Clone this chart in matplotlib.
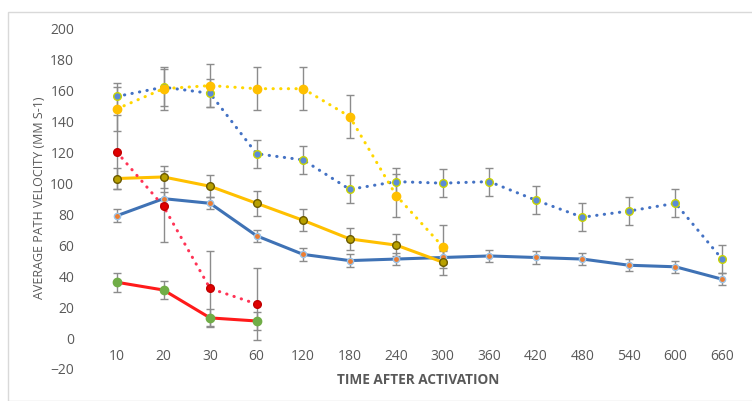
import matplotlib
matplotlib.use("Agg")
import matplotlib.pyplot as plt
from matplotlib.patches import Rectangle

# category axis (minutes after activation)
times = ["10", "20", "30", "60", "120", "180", "240", "300",
         "360", "420", "480", "540", "600", "660"]

# blue solid
blue_solid = [79, 90, 87, 66, 54, 50, 51, 52, 53, 52, 51, 47, 46, 38]
blue_solid_err = [4, 4, 4, 4, 4, 4, 4, 4, 4, 4, 4, 4, 4, 4]
# blue dotted
blue_dot = [156, 162, 158, 119, 115, 96, 101, 100, 101, 89, 78, 82, 87, 51]
blue_dot_err = [9, 12, 9, 9, 9, 9, 9, 9, 9, 9, 9, 9, 9, 9]
# gold solid
gold_solid = [103, 104, 98, 87, 76, 64, 60, 49]
gold_solid_err = [7, 7, 7, 8, 7, 7, 7, 8]
# yellow dotted
yellow_dot = [148, 161, 163, 161, 161, 143, 92, 59]
yellow_dot_err = [14, 14, 14, 14, 14, 14, 14, 14]
# red dotted
red_dot = [120, 85, 32, 22]
red_dot_err = [24, 23, 24, 23]
# red solid, green markers
red_solid = [36, 31, 13, 11]
red_solid_err = [6, 6, 6, 6]

W, H = 752, 401
fig = plt.figure(figsize=(W / 100, H / 100), dpi=100)
fig.patches.append(Rectangle((8 / W, 0), 2, 1 - 12 / H, transform=fig.transFigure,
                             fill=False, edgecolor="#d9d9d9", lw=1))

left, right = 93.7 / W, 745.3 / W
bottom, top = 1 - 369 / H, 1 - 28.3 / H
ax = fig.add_axes([left, bottom, right - left, top - bottom])

xs = list(range(len(times)))
err_kw = dict(ecolor="#8c8c8c", elinewidth=1.0, capsize=3, capthick=1.0)
dots = (0, (0.1, 2.4))

series = [
    (blue_solid, blue_solid_err, "#3f72b5", "-", "#ed7d31", "#9dc3e6", 4.5),
    (blue_dot, blue_dot_err, "#4472c4", dots, "#5b8bd6", "#c9d400", 5.5),
    (gold_solid, gold_solid_err, "#ffc000", "-", "#b8a000", "#6b5a00", 5.5),
    (yellow_dot, yellow_dot_err, "#ffd700", dots, "#ffc000", "#ffc000", 6),
    (red_dot, red_dot_err, "#ff3355", dots, "#e00000", "#c00000", 5.5),
    (red_solid, red_solid_err, "#ff1a1a", "-", "#70ad47", "#70ad47", 6),
]

for ys, err, col, ls, mfc, mec, ms in series:
    x = xs[:len(ys)]
    ax.errorbar(x, ys, yerr=err, fmt="none", zorder=2, **err_kw)
    ax.plot(x, ys, color=col, ls=ls, lw=2.2, dash_capstyle="round",
            marker="o", ms=ms, mfc=mfc, mec=mec, mew=1.0, zorder=3)

ax.set_xlim(-0.5, len(times) - 0.5)
ax.set_ylim(-20, 200)
ax.set_yticks(range(-20, 201, 20))
ax.set_xticks(xs)
ax.set_xticklabels(times)

for s in ["top", "right", "left"]:
    ax.spines[s].set_visible(False)
ax.spines["bottom"].set_position(("data", 0))
ax.spines["bottom"].set_visible(False)
ax.tick_params(length=0, labelsize=10, colors="#595959", labelfontfamily="Open Sans")
ax.tick_params(axis="y", pad=14)
ax.tick_params(axis="x", pad=8)

fig.text(40 / W, 1 - 198 / H, "AVERAGE PATH VELOCITY (MM S-1)", rotation=90,
         ha="center", va="center", fontsize=9, color="#595959", family="Open Sans")
fig.text(418 / W, 1 - 380 / H, "TIME AFTER ACTIVATION", ha="center", va="center",
         fontsize=9.8, fontweight="bold", color="#595959", family="Open Sans")

fig.savefig("out.png", dpi=100)
